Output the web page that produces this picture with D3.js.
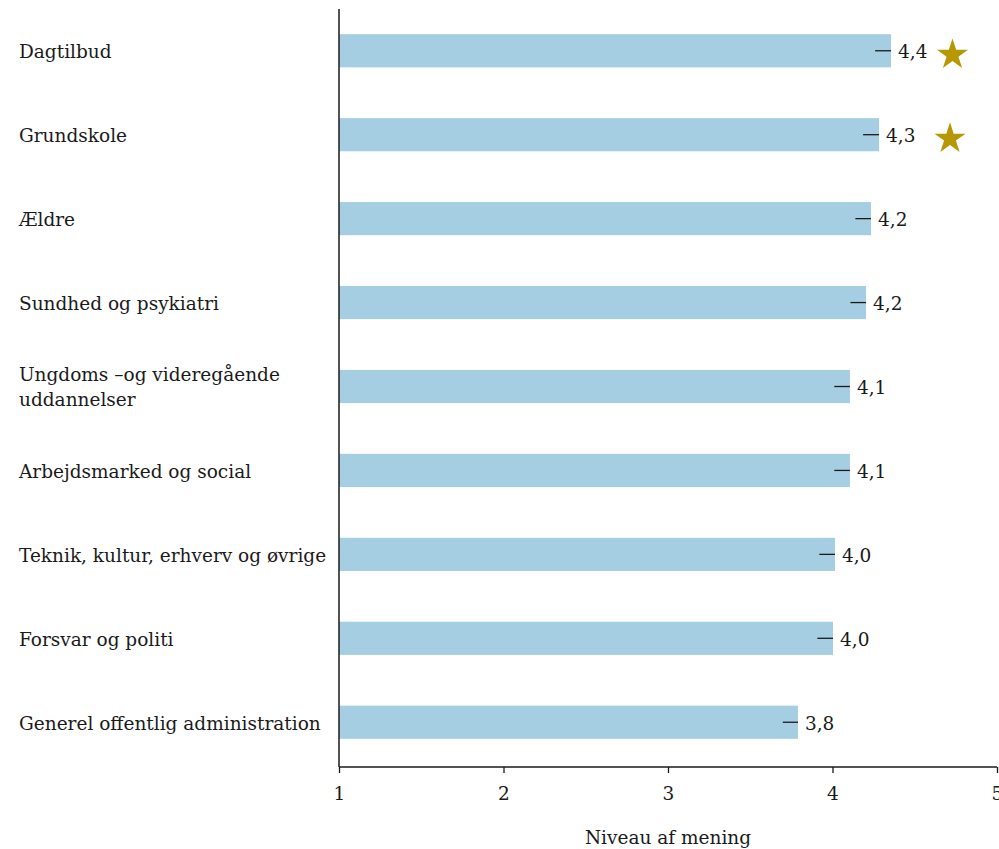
<!DOCTYPE html>
<html>
<head>
<meta charset="utf-8">
<script src="https://cdn.jsdelivr.net/npm/d3@7/dist/d3.min.js"></script>
<style>
  html, body { margin: 0; padding: 0; background: #fff; }
  svg { display: block; }
  text { font-family: "DejaVu Serif", "Liberation Serif", serif; fill: #1a1a1a; }
</style>
</head>
<body>
<svg id="chart" width="999" height="849"></svg>
<script>
const categories = [
  "Dagtilbud",
  "Grundskole",
  "Ældre",
  "Sundhed og psykiatri",
  "Ungdoms –og videregående|uddannelser",
  "Arbejdsmarked og social",
  "Teknik, kultur, erhverv og øvrige",
  "Forsvar og politi",
  "Generel offentlig administration"
];
const values = [4.356, 4.283, 4.234, 4.204, 4.106, 4.106, 4.015, 4.003, 3.79];
const valueLabels = ["4,4", "4,3", "4,2", "4,2", "4,1", "4,1", "4,0", "4,0", "3,8"];
const errors = [0.097, 0.097, 0.095, 0.095, 0.095, 0.095, 0.095, 0.095, 0.092];
const starred = [true, true, false, false, false, false, false, false, false];
const xTicks = [1, 2, 3, 4, 5];
const axisTitle = "Niveau af mening";

const svg = d3.select("#chart");
const mLeft = 339, mRight = 997, mTop = 9, mBottom = 767;

const x = d3.scaleLinear().domain([1, 5]).range([mLeft, mRight]);
const y = d3.scaleBand().domain(categories).range([mTop, mBottom - 3]).paddingInner(0.605).paddingOuter(0.3);

const fs = 18.5;

// bars
svg.append("g").selectAll("rect").data(categories).join("rect")
  .attr("x", x(1))
  .attr("y", d => y(d))
  .attr("width", (d, i) => x(values[i]) - x(1))
  .attr("height", y.bandwidth())
  .attr("fill", "#a6cee2");

// error lines
svg.append("g").selectAll("line").data(categories).join("line")
  .attr("x1", (d, i) => x(values[i] - errors[i]))
  .attr("x2", (d, i) => x(values[i]))
  .attr("y1", d => y(d) + y.bandwidth() / 2)
  .attr("y2", d => y(d) + y.bandwidth() / 2)
  .attr("stroke", "#1a1a1a")
  .attr("stroke-width", 1.3);

// value labels
svg.append("g").selectAll("text").data(categories).join("text")
  .attr("x", (d, i) => x(values[i]) + 7)
  .attr("y", d => y(d) + y.bandwidth() / 2 + 1)
  .attr("dy", "0.35em")
  .attr("font-size", fs)
  .text((d, i) => valueLabels[i]);

// stars
const starPath = d3.symbol().type(d3.symbolStar).size(300)();
svg.append("g").selectAll("path").data(categories.filter((d, i) => starred[i])).join("path")
  .attr("d", starPath)
  .attr("transform", (d, i) => `translate(${i === 0 ? 952.5 : 950},${y(d) + y.bandwidth() / 2 + 4})`)
  .attr("fill", "#b59804");

// category labels
svg.append("g").selectAll("text").data(categories).join("text")
  .attr("x", 19)
  .attr("font-size", fs)
  .each(function(d) {
    const lines = d.split("|");
    const cy = y(d) + y.bandwidth() / 2 + 1;
    const lh = 25;
    const t = d3.select(this);
    lines.forEach((ln, k) => {
      t.append("tspan")
        .attr("x", 19)
        .attr("y", cy + (k - (lines.length - 1) / 2) * lh)
        .attr("dy", "0.35em")
        .text(ln);
    });
  });

// x axis
const xAxis = d3.axisBottom(x).tickValues(xTicks).tickFormat(d3.format("d")).tickSize(6).tickPadding(14);
const gx = svg.append("g").attr("transform", `translate(0,${mBottom})`).call(xAxis);
gx.attr("font-family", null);
gx.select(".domain").attr("stroke", "#1a1a1a").attr("stroke-width", 1.5).attr("d", `M${mLeft},0H${mRight}`);
gx.selectAll(".tick line").attr("stroke", "#1a1a1a").attr("stroke-width", 1.3);
gx.selectAll(".tick text").attr("font-size", fs).attr("fill", "#1a1a1a");

// y axis line
svg.append("line")
  .attr("x1", mLeft).attr("x2", mLeft)
  .attr("y1", mTop).attr("y2", mBottom)
  .attr("stroke", "#1a1a1a").attr("stroke-width", 1.5);

// axis title
svg.append("text")
  .attr("x", (mLeft + mRight) / 2)
  .attr("y", 844)
  .attr("text-anchor", "middle")
  .attr("font-size", fs)
  .text(axisTitle);
</script>
</body>
</html>
